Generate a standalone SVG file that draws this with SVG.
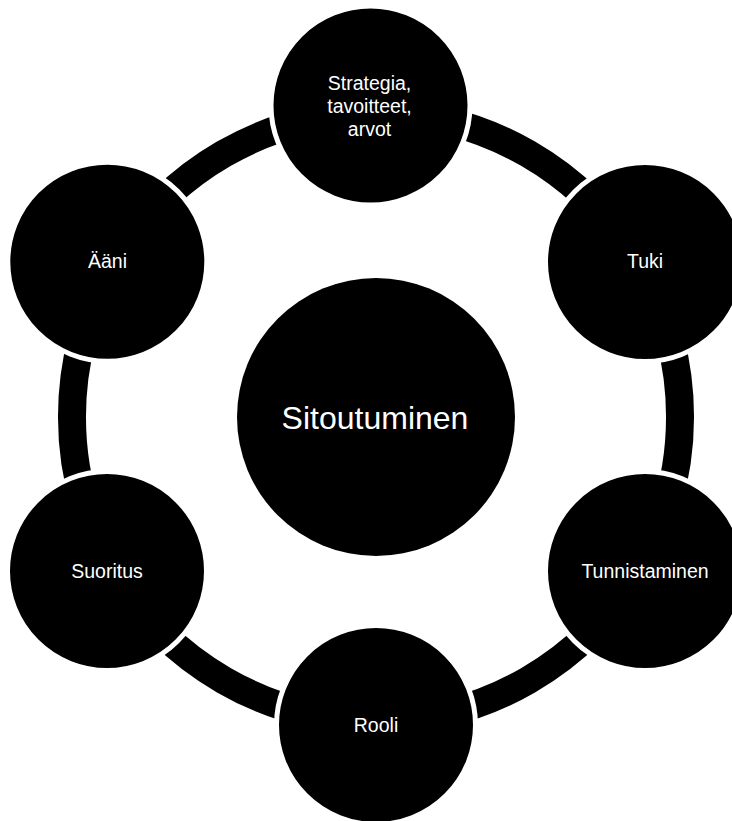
<svg xmlns="http://www.w3.org/2000/svg" width="732" height="821" viewBox="0 0 732 821">
<style>
.node{fill:#000;stroke:#fff;stroke-width:5}
.ring{fill:none;stroke:#000;stroke-width:28}
.lbl{fill:#fff;font-family:"Liberation Sans",Arial,sans-serif;font-size:19.5px;text-anchor:middle}
.big{font-size:32px}
</style>
<rect width="732" height="821" fill="#fff"/>
<g id="connectors">
<path class="ring" d="M376,113 A304,304 0 0 1 639.3,265"/>
<path class="ring" d="M639.3,265 A304,304 0 0 1 639.3,569"/>
<path class="ring" d="M639.3,569 A304,304 0 0 1 376,721"/>
<path class="ring" d="M376,721 A304,304 0 0 1 112.7,569"/>
<path class="ring" d="M112.7,569 A304,304 0 0 1 112.7,265"/>
<path class="ring" d="M112.7,265 A304,304 0 0 1 376,113"/>
</g>
<g id="center">
<circle cx="376" cy="417" r="139" fill="#000"/>
<text class="lbl big" x="375" y="428.5">Sitoutuminen</text>
</g>
<g id="strategia">
<circle class="node" cx="370.5" cy="105.5" r="99.5"/>
<text class="lbl" x="369.5" y="90">Strategia,</text>
<text class="lbl" x="369.5" y="113.3">tavoitteet,</text>
<text class="lbl" x="369.5" y="136">arvot</text>
</g>
<g id="tuki">
<circle class="node" cx="645" cy="262" r="99.5"/>
<text class="lbl" x="645" y="267.5">Tuki</text>
</g>
<g id="tunnistaminen">
<circle class="node" cx="645" cy="571" r="99.5"/>
<text class="lbl" x="645" y="577.7">Tunnistaminen</text>
</g>
<g id="rooli">
<circle class="node" cx="376" cy="725" r="99.5"/>
<text class="lbl" x="376" y="732.3">Rooli</text>
</g>
<g id="suoritus">
<circle class="node" cx="107" cy="571" r="99.5"/>
<text class="lbl" x="107" y="577.7">Suoritus</text>
</g>
<g id="aani">
<circle class="node" cx="107.3" cy="261.7" r="99.5"/>
<text class="lbl" x="107.5" y="268.3">Ääni</text>
</g>
</svg>
